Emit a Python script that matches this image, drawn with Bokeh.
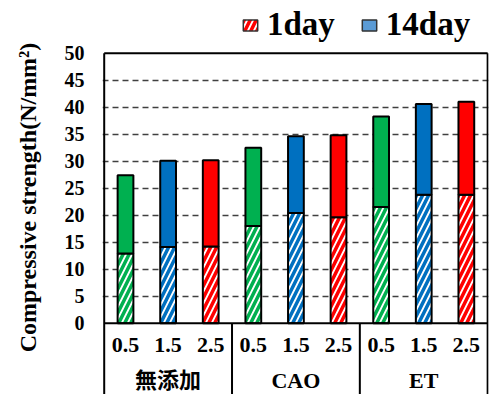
import numpy as np
from bokeh.plotting import figure
from bokeh.models import ColumnDataSource, Range1d, FixedTicker, Legend, LegendItem
from bokeh.core.properties import value
from bokeh.embed import file_html
from bokeh.resources import INLINE

# ---- data ----
groups = ["無添加", "CAO", "ET"]
doses = ["0.5", "1.5", "2.5"]
dose_colors = ["#00B050", "#0070C0", "#FF0000"]
day1 = [12.9, 14.1, 14.2, 18.0, 20.4, 19.6, 21.5, 23.8, 23.8]
day14 = [27.4, 30.1, 30.2, 32.5, 34.6, 34.8, 38.3, 40.6, 41.0]
y_ticks = [0, 5, 10, 15, 20, 25, 30, 35, 40, 45, 50]
legend_labels = ["1day", "14day"]
legend_colors = ["#FF0000", "#5B9BD5"]
y_title = "Compressive strength(N/mm²)"

SERIF = "Liberation Serif"
n_g = len(groups)
n_d = len(doses)
n = n_g * n_d
xs = [i + 0.5 for i in range(n)]
src = ColumnDataSource(dict(
    x=xs,
    d1=day1,
    d14=day14,
    zero=[0] * n,
    color=[dose_colors[i % n_d] for i in range(n)],
    dose=[doses[i % n_d] for i in range(n)],
))

ymax = max(y_ticks)
ybot = -13.2
ytop = 59.76

p = figure(width=497, height=394, output_backend="svg", toolbar_location=None,
           x_range=Range1d(-0.04, n + 0.02), y_range=Range1d(ybot, ytop),
           x_axis_type=None,
           min_border_left=102, min_border_right=9, min_border_top=0, min_border_bottom=0)
p.outline_line_color = None
p.background_fill_color = "white"
p.border_fill_color = "white"
p.xgrid.visible = False
p.ygrid.ticker = FixedTicker(ticks=y_ticks[1:-1])
p.ygrid.grid_line_color = "#404040"
p.ygrid.grid_line_dash = "6 4"
p.ygrid.grid_line_width = 1.5

ax = p.yaxis[0]
ax.ticker = FixedTicker(ticks=y_ticks)
ax.axis_line_color = None
ax.major_tick_line_color = None
ax.minor_tick_line_color = None
ax.major_tick_out = 0
ax.major_tick_in = 0
ax.minor_tick_out = 0
ax.minor_tick_in = 0
ax.major_label_text_font = SERIF
ax.major_label_text_font_style = "bold"
ax.major_label_text_font_size = "20px"
ax.major_label_text_color = "black"
ax.major_label_standoff = 18
ax.axis_label = y_title
ax.axis_label_text_font = SERIF
ax.axis_label_text_font_style = "bold"
ax.axis_label_text_font_size = "24px"
ax.axis_label_text_color = "black"
ax.axis_label_standoff = 21

# bars
bw = 0.37
p.vbar(x="x", bottom="zero", top="d1", width=bw, source=src,
       fill_color="white", hatch_pattern="/", hatch_color="color",
       hatch_scale=12, hatch_weight=3.5, line_color="black", line_width=2)
p.vbar(x="x", bottom="d1", top="d14", width=bw, source=src,
       fill_color="color", line_color="black", line_width=2)

# frame / table lines
p.segment(x0=[0, 0, n, 0] + [k * n_d for k in range(1, n_g)],
          y0=[ybot, ymax, ybot, 0] + [ybot] * (n_g - 1),
          x1=[0, n, n, n] + [k * n_d for k in range(1, n_g)],
          y1=[ymax, ymax, ymax, 0] + [0] * (n_g - 1),
          line_color="black", line_width=2)

# category labels
p.text(x="x", y=-4.1, text="dose", source=src, text_font=value(SERIF),
       text_font_style="bold", text_font_size="22px", text_align="center",
       text_baseline="middle", text_color="black")
p.text(x=[k * n_d + n_d / 2 for k in range(n_g)], y=[-10.6] * n_g, text=groups,
       text_font=value("'Liberation Serif', 'Noto Sans CJK JP'"),
       text_font_style="bold", text_font_size="22px", text_align="center",
       text_baseline="middle", text_color="black")

# legend (swatch-only renderers: NaN height, nothing drawn in the plot)
r1 = p.vbar(x=[0.5], top=[float("nan")], width=0.3, fill_color="white", hatch_pattern="/",
            hatch_color=legend_colors[0], hatch_scale=12, hatch_weight=3.5,
            line_color="#333333", line_width=1.5)
r2 = p.vbar(x=[0.5], top=[float("nan")], width=0.3, fill_color=legend_colors[1],
            line_color="#333333", line_width=1.5)
legend = Legend(items=[LegendItem(label=legend_labels[0], renderers=[r1]),
                       LegendItem(label=legend_labels[1], renderers=[r2])],
                location=(139, 351), orientation="horizontal",
                glyph_width=18, glyph_height=14,
                label_text_font=SERIF, label_text_font_style="bold",
                label_text_font_size="33px", label_text_color="black",
                label_standoff=8, spacing=25,
                padding=0, margin=0, border_line_color=None,
                background_fill_alpha=0)
p.add_layout(legend)

open("out.html", "w").write(file_html(p, INLINE))
